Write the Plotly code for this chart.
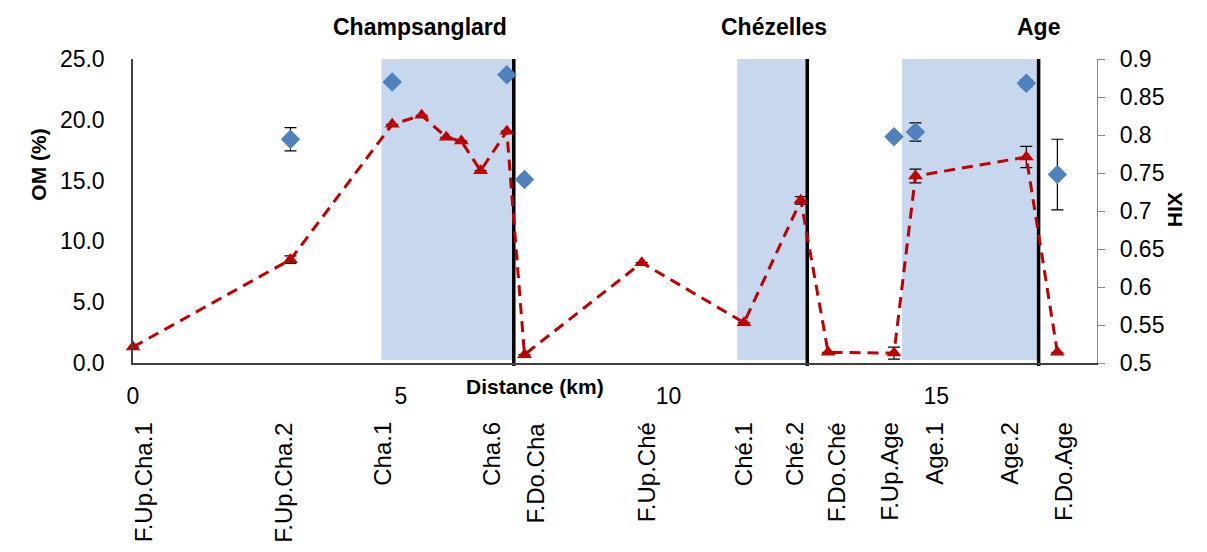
import plotly.graph_objects as go

# ---------------- data ----------------
# Organic matter (OM %) sites: distance (km), value, error
om_km = [2.94, 4.84, 6.98, 7.31, 14.21, 14.61, 16.68, 17.26]
om_val = [18.4, 23.1, 23.7, 15.1, 18.6, 19.0, 23.0, 15.5]
om_err = [0.95, 0.0, 0.0, 0.0, 0.0, 0.75, 0.3, 2.9]

# HIX sites: distance (km), value, error
hix_km = [0.0, 2.94, 4.84, 5.39, 5.85, 6.13, 6.49, 6.98, 7.31, 9.50,
          11.41, 12.47, 12.98, 14.21, 14.61, 16.68, 17.26]
hix_val = [0.521, 0.636, 0.814, 0.826, 0.797, 0.792, 0.753, 0.805, 0.511, 0.632,
           0.553, 0.714, 0.514, 0.513, 0.746, 0.771, 0.514]
hix_err = [0.0, 0.005, 0.0, 0.0, 0.0, 0.0, 0.0, 0.0, 0.0, 0.0,
           0.0, 0.005, 0.0, 0.008, 0.009, 0.014, 0.0]

# Reaches (shaded) and dam positions
reach_names = ["Champsanglard", "Chézelles", "Age"]
reach_start_km = [4.64, 11.28, 14.36]
reach_dam_km = [7.11, 12.59, 16.91]

# Site labels
site_names = ["F.Up.Cha.1", "F.Up.Cha.2", "Cha.1", "Cha.6", "F.Do.Cha", "F.Up.Ché",
              "Ché.1", "Ché.2", "F.Do.Ché", "F.Up.Age", "Age.1", "Age.2", "F.Do.Age"]

# Axis ticks
x_ticks = [0, 5, 10, 15]
om_ticks = [0, 5, 10, 15, 20, 25]
hix_ticks = [0.5, 0.55, 0.6, 0.65, 0.7, 0.75, 0.8, 0.85, 0.9]
hix_tick_text = ["0.5", "0.55", "0.6", "0.65", "0.7", "0.75", "0.8", "0.85", "0.9"]

# ---------------- layout positions (not data) ----------------
site_label_x = [0.19, 2.81, 4.66, 6.68, 7.52, 9.58, 11.39, 12.34, 13.13, 14.12, 14.96, 16.36, 17.37]
reach_title_x = [5.35, 11.97, 16.91]

FONT = "Arial, Liberation Sans, sans-serif"
BLUE = "#4F81BD"
RED = "#C00000"
SHADE = "#C6D7EE"

fig = go.Figure()

fig.add_trace(go.Scatter(
    x=om_km, y=om_val, mode="markers", yaxis="y",
    marker=dict(symbol="diamond", size=15, color=BLUE),
    error_y=dict(type="data", array=om_err, color="#000000", thickness=1.2, width=6),
    cliponaxis=False, showlegend=False,
))

fig.add_trace(go.Scatter(
    x=hix_km, y=hix_val, mode="lines+markers", yaxis="y2",
    line=dict(color=RED, width=3, dash="11px,7px"),
    marker=dict(symbol="triangle-up", size=13, color=RED),
    error_y=dict(type="data", array=hix_err, color="#000000", thickness=1.2, width=6),
    cliponaxis=False, showlegend=False,
))

shapes = []
for s, e in zip(reach_start_km, reach_dam_km):
    shapes.append(dict(type="rect", xref="x", yref="paper", x0=s, x1=e, y0=0.01, y1=1,
                       fillcolor=SHADE, line=dict(width=0), layer="below"))
for d in reach_dam_km:
    shapes.append(dict(type="line", xref="x", yref="paper", x0=d, x1=d, y0=-0.01, y1=1,
                       line=dict(color="#000000", width=3.5), layer="below"))

annotations = []
for name, xpos in zip(reach_names, reach_title_x):
    annotations.append(dict(text="<b>%s</b>" % name, x=xpos, xref="x", y=1.105, yref="paper",
                            showarrow=False, font=dict(family=FONT, size=23, color="#000000"),
                            xanchor="center", yanchor="middle"))
for name, xpos in zip(site_names, site_label_x):
    annotations.append(dict(text=name, x=xpos, xref="x", y=-0.188, yref="paper",
                            textangle=-90, showarrow=False,
                            font=dict(family=FONT, size=24, color="#000000"),
                            xanchor="center", yanchor="top"))
annotations.append(dict(text="<b>OM (%)</b>", x=-0.112, xref="paper", y=0.651, yref="paper",
                        textangle=-90, showarrow=False,
                        font=dict(family=FONT, size=21, color="#000000")))
annotations.append(dict(text="<b>HIX</b>", x=1.094, xref="paper", y=0.503, yref="paper",
                        textangle=-90, showarrow=False,
                        font=dict(family=FONT, size=21, color="#000000")))
annotations.append(dict(text="<b>Distance (km)</b>", x=0.417, xref="paper", y=-0.122, yref="paper",
                        showarrow=False, font=dict(family=FONT, size=21, color="#000000")))

fig.update_layout(
    width=1199, height=544,
    margin=dict(l=125, r=110, t=51, b=189),
    paper_bgcolor="white", plot_bgcolor="white",
    font=dict(family=FONT, size=22, color="#000000"),
    xaxis=dict(range=[0, 18], tickvals=x_ticks, showgrid=False, zeroline=False,
               showline=True, linecolor="#404040", linewidth=1.5, ticks="",
               ticklabelstandoff=12, tickfont=dict(size=23)),
    yaxis=dict(range=[0, 25], tickvals=om_ticks, tickformat=".1f", showgrid=False,
               zeroline=False, showline=True, linecolor="#404040", linewidth=1.5,
               ticks="", ticklabelstandoff=22, tickfont=dict(size=23)),
    yaxis2=dict(range=[0.5, 0.9], tickvals=hix_ticks, ticktext=hix_tick_text,
                overlaying="y", side="right", showgrid=False, zeroline=False,
                showline=True, linecolor="#868686", linewidth=1.2,
                ticks="outside", ticklen=7, tickcolor="#868686",
                ticklabelstandoff=10, tickfont=dict(size=23)),
    shapes=shapes,
    annotations=annotations,
)

fig.write_html("out.html")
